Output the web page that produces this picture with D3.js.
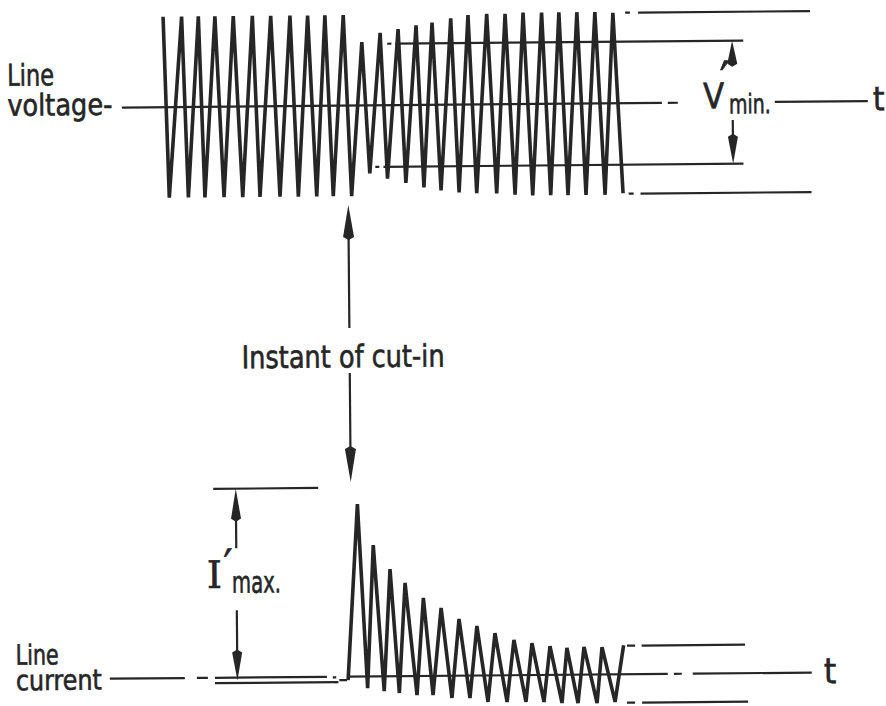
<!DOCTYPE html>
<html><head><meta charset="utf-8">
<script src="https://cdn.jsdelivr.net/npm/d3@7"></script>
<style>html,body{margin:0;padding:0;background:#fff;} svg{display:block}</style>
</head><body>
<svg id="c" width="886" height="706"></svg>
<script>
// ---------- DATA (time in supply cycles, values in per-unit) ----------
// Line voltage: positive crests (time, value) and negative crests (time, value)
const voltTopTimes = [0, 1.03, 1.96, 2.88, 3.9, 4.96, 5.98, 7.05, 8.03, 8.99, 10.01, 11.03, 12.05, 13.05, 14.05, 14.94, 15.98, 16.94, 17.98, 19, 20, 21.03, 21.99, 22.99, 23.99, 24.99];
const voltTopValues = [1, 1, 1, 1, 1, 1, 1, 1, 1, 1, 1, 0.70, 0.80, 0.84, 0.88, 0.91, 0.955, 0.99, 1.0, 1.0, 1.01, 1.01, 1.01, 1.01, 1.01, 1.0];
const voltBottomTimes = [0.26, 1.32, 2.24, 3.3, 4.34, 5.3, 6.41, 7.43, 8.45, 9.37, 10.39, 11.41, 12.39, 13.41, 14.41, 15.36, 16.36, 17.34, 18.45, 19.47, 20.45, 21.45, 22.41, 23.41, 24.47, 25.47];
const voltBottomValues = [-1, -1, -1, -1, -1, -1, -1, -1, -1, -1, -1, -0.75, -0.81, -0.86, -0.91, -0.945, -0.97, -0.98, -0.985, -1.0, -1.01, -1.01, -1.01, -1.01, -1.01, -0.995];
const vMinLevel = 0.68;       // V'min reference
const voltSteady = 1.0;

// Line current (per-unit of steady-state crest)
const currStart = {t: 9.96, v: -0.12};
const currPeakTimes = [10.56, 11.42, 12.34, 13.17, 14.18, 15.16, 16.15, 17.14, 18.14, 19.19, 20.19, 21.19, 22.13, 23.08, 24.08];
const currPeakValues = [6.05, 4.61, 3.76, 3.27, 2.74, 2.38, 1.99, 1.74, 1.48, 1.24, 1.12, 1.01, 0.94, 0.97, 0.96];
const currTroughTimes = [11.04, 11.96, 12.8, 13.78, 14.67, 15.72, 16.72, 17.72, 18.78, 19.83, 20.83, 21.83, 22.72, 23.78, 24.78];
const currTroughValues = [-0.41, -0.52, -0.59, -0.67, -0.67, -0.78, -0.79, -0.93, -0.94, -0.94, -0.95, -0.99, -1.0, -1.0, -0.97];
const currEnd = {t: 25.28, v: 1.02};
const iMaxLevel = 6.63;
const currSteady = 1.0;
const cutInTime = 10.2;

// Labels
const labels = {
  lineV: "Line", voltage: "voltage-", cutIn: "Instant of cut-in",
  lineI: "Line", current: "current", t: "t", V: "V", prime: "\u2032", min: "min.", I: "I", max: "max."
};

// ---------- SCALES ----------
const xS = d3.scaleLinear().domain([0, 25]).range([166, 616]);
const yV = d3.scaleLinear().domain([-1, 1]).range([195.3, 14.3]);
const yI = d3.scaleLinear().domain([-1, 1]).range([704.3, 647.3]);

const ink = "#262626";
const svg = d3.select("#c");
const g = svg.append("g").attr("transform", "rotate(-0.5,443,353)");

// ---------- reference lines (extents in cycles, level in p.u.) ----------
const voltRef = [
  [-2.33, 27.67, 0], [28.0, 28.56, 0], [33.94, 39.11, 0],
  [12.44, 12.67, vMinLevel], [12.89, 32.22, vMinLevel],
  [11.72, 11.94, -vMinLevel], [12.17, 32.17, -vMinLevel],
  [25.67, 25.94, voltSteady], [26.39, 35.94, voltSteady],
  [25.78, 26.06, -voltSteady], [26.44, 35.94, -voltSteady]
];
const currRef = [
  [-3.28, 0.89, 0], [1.56, 2.17, 0], [2.56, 8.78, 0], [2.56, 9.33, -0.19],
  [9.11, 9.3, -0.02], [9.22, 9.42, -0.19], [9.47, 9.9, -0.12],
  [9.94, 27.72, 0], [28.06, 28.5, 0], [29.11, 35.72, 0],
  [25.47, 25.92, currSteady], [26.28, 32.03, currSteady],
  [25.44, 25.89, -currSteady], [26.28, 32.17, -currSteady],
  [2.56, 8.39, iMaxLevel]
];
g.append("g").selectAll("line").data(voltRef).join("line")
  .attr("x1", d => xS(d[0])).attr("x2", d => xS(d[1]))
  .attr("y1", d => yV(d[2])).attr("y2", d => yV(d[2]))
  .attr("stroke", ink).attr("stroke-width", 2.2);
g.append("g").selectAll("line").data(currRef).join("line")
  .attr("x1", d => xS(d[0])).attr("x2", d => xS(d[1]))
  .attr("y1", d => yI(d[2])).attr("y2", d => yI(d[2]))
  .attr("stroke", ink).attr("stroke-width", 2.2);

// ---------- waveforms ----------
const voltPts = [];
voltTopTimes.forEach((t, i) => {
  voltPts.push({t, v: voltTopValues[i]});
  voltPts.push({t: voltBottomTimes[i], v: voltBottomValues[i]});
});
const currPts = [currStart];
currPeakTimes.forEach((t, i) => {
  currPts.push({t, v: currPeakValues[i]});
  currPts.push({t: currTroughTimes[i], v: currTroughValues[i]});
});
currPts.push(currEnd);

g.append("path").datum(voltPts)
  .attr("d", d3.line().x(d => xS(d.t)).y(d => yV(d.v)))
  .attr("fill", "none").attr("stroke", ink).attr("stroke-width", 3.6)
  .attr("stroke-linejoin", "miter").attr("stroke-miterlimit", 3);
g.append("path").datum(currPts)
  .attr("d", d3.line().x(d => xS(d.t)).y(d => yI(d.v)))
  .attr("fill", "none").attr("stroke", ink).attr("stroke-width", 3.6)
  .attr("stroke-linejoin", "miter").attr("stroke-miterlimit", 3);

// ---------- arrows ----------
function arrow(x, yTail, yTip, headLen, headW) {
  const dir = yTip < yTail ? -1 : 1;
  const yBase = yTip - dir * headLen;
  g.append("line").attr("x1", x).attr("x2", x).attr("y1", yTail).attr("y2", yBase)
    .attr("stroke", ink).attr("stroke-width", 2.2);
  g.append("path")
    .attr("d", `M${x},${yTip} L${x - headW / 2},${yBase} L${x},${yBase - dir * 3} L${x + headW / 2},${yBase} Z`)
    .attr("fill", ink);
}
const xCut = xS(cutInTime);
arrow(xCut, 327.2, 204.2, 32, 11);
arrow(xCut, 372.2, 481.2, 33, 11);
const xVmin = xS(31.6);
arrow(xVmin, 66, yV(vMinLevel), 23, 10);
arrow(xVmin, 122.6, yV(-vMinLevel), 27, 10);
const xImax = xS(3.81);
arrow(xImax, 546.5, yI(iMaxLevel), 30, 10);
arrow(xImax, 608.5, yI(-0.1), 28, 10);

// ---------- text ----------
const sans = "'DejaVu Sans Condensed','DejaVu Sans',sans-serif";
function txt(s, x, y, size, len, family) {
  const t = g.append("text").attr("x", x).attr("y", y).text(s)
    .attr("font-family", family || sans).attr("font-size", size).attr("fill", ink)
    .attr("stroke", ink).attr("stroke-width", 0.6);
  if (len) t.attr("textLength", len).attr("lengthAdjust", "spacingAndGlyphs");
  return t;
}
txt(labels.lineV, 9.5, 82, 30, 47);
txt(labels.voltage, 9.5, 112, 30, 105);
txt(labels.cutIn, 241.6, 366.5, 31, 203);
txt(labels.lineI, 13, 661, 28, 43);
txt(labels.current, 13, 686.5, 28, 86);
txt(labels.V, 705.5, 110.5, 35, 21);
txt(labels.prime, 722, 101, 52);
txt(labels.min, 731, 116, 27, 42);
txt(labels.I, 205, 586, 38, null, "'DejaVu Serif',serif");
txt(labels.prime, 221.5, 580, 46);
txt(labels.max, 230, 591, 30, 49);
txt(labels.t, 875, 114, 33);
txt(labels.t, 821, 686.5, 35);
</script>
</body></html>
